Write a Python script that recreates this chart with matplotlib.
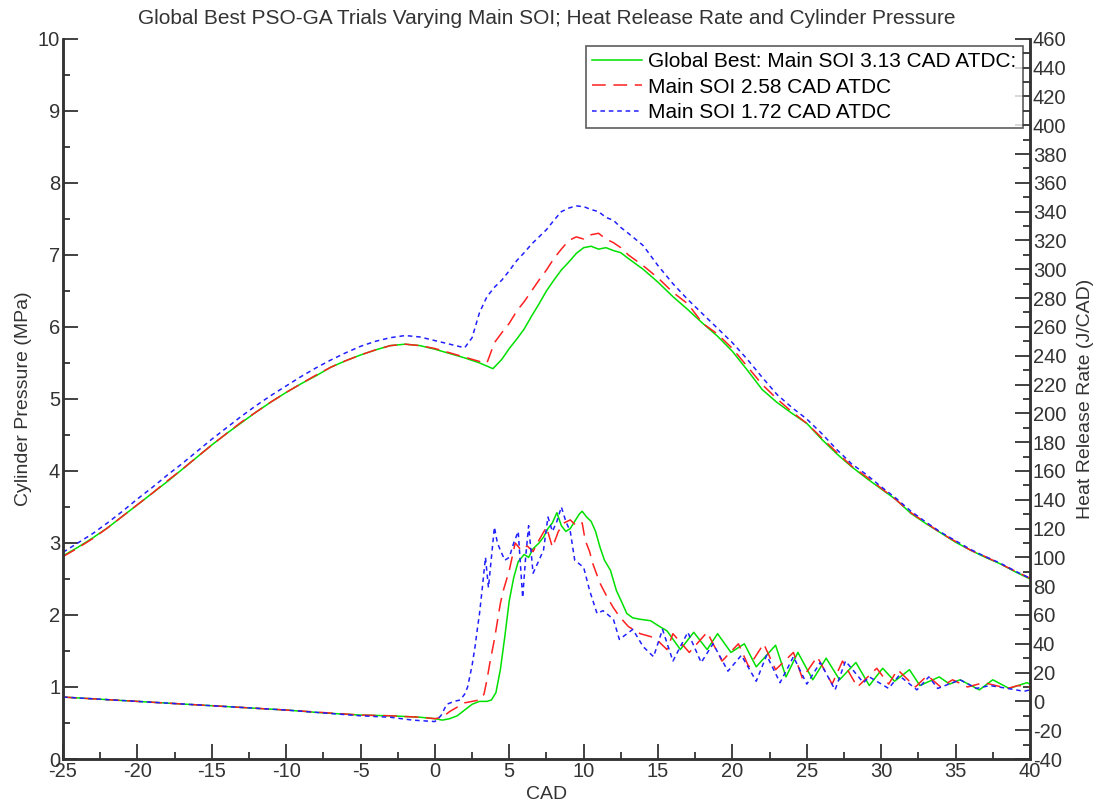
import matplotlib.pyplot as plt
from matplotlib.ticker import MultipleLocator

# cylinder pressure (MPa) against crank angle (CAD)
cad_p_g = [-25, -24, -23, -22, -21, -20, -19, -18, -17, -16, -15, -14, -13, -12, -11, -10,
           -9, -8, -7, -6, -5, -4, -3, -2, -1, 0, 1, 2, 3, 3.9, 4.5, 5, 5.5, 6, 6.5, 7, 7.5,
           8, 8.5, 9, 9.5, 10, 10.5, 11, 11.5, 12, 12.5, 13, 14, 15, 16, 17, 18, 19, 20, 21,
           22, 23, 24, 25, 26, 27, 28, 29, 30, 31, 32, 33, 34, 35, 36, 37, 38, 39, 40]
p_g = [2.82, 2.94, 3.07, 3.21, 3.37, 3.53, 3.69, 3.85, 4.02, 4.19, 4.36, 4.52, 4.67, 4.82, 4.96, 5.09,
       5.21, 5.32, 5.44, 5.53, 5.61, 5.68, 5.74, 5.76, 5.74, 5.69, 5.63, 5.57, 5.50, 5.42, 5.55, 5.70, 5.83, 5.97, 6.15, 6.32, 6.50,
       6.65, 6.79, 6.90, 7.02, 7.10, 7.12, 7.08, 7.10, 7.06, 7.03, 6.95, 6.80, 6.62, 6.42, 6.24, 6.05, 5.87, 5.66, 5.40,
       5.13, 4.95, 4.80, 4.66, 4.44, 4.24, 4.06, 3.90, 3.75, 3.60, 3.41, 3.27, 3.14, 3.01, 2.90, 2.80, 2.71, 2.60, 2.50]

cad_p_r = [-25, -24, -23, -22, -21, -20, -19, -18, -17, -16, -15, -14, -13, -12, -11, -10,
           -9, -8, -7, -6, -5, -4, -3, -2, -1, 0, 1, 2, 3, 3.5, 4, 4.5, 5, 5.5, 6, 6.5, 7, 7.5,
           8, 8.5, 9, 9.5, 10, 10.5, 11, 11.5, 12, 12.5, 13, 14, 15, 16, 17, 18, 19, 20, 21,
           22, 23, 24, 25, 26, 27, 28, 29, 30, 31, 32, 33, 34, 35, 36, 37, 38, 39, 40]
p_r = [2.81, 2.93, 3.06, 3.21, 3.37, 3.53, 3.69, 3.86, 4.02, 4.19, 4.36, 4.52, 4.68, 4.82, 4.96, 5.09,
       5.21, 5.33, 5.44, 5.53, 5.61, 5.68, 5.74, 5.76, 5.74, 5.70, 5.64, 5.58, 5.52, 5.50, 5.78, 5.92, 6.05, 6.22, 6.35, 6.50, 6.65, 6.79,
       6.95, 7.08, 7.20, 7.25, 7.22, 7.28, 7.30, 7.22, 7.17, 7.10, 7.00, 6.85, 6.68, 6.48, 6.32, 6.05, 5.90, 5.70, 5.45,
       5.20, 5.00, 4.82, 4.66, 4.46, 4.26, 4.07, 3.92, 3.76, 3.60, 3.42, 3.28, 3.14, 3.02, 2.90, 2.81, 2.71, 2.61, 2.51]

cad_p_b = [-25, -24, -23, -22, -21, -20, -19, -18, -17, -16, -15, -14, -13, -12, -11, -10,
           -9, -8, -7, -6, -5, -4, -3, -2, -1, 0, 1, 2, 2.5, 3, 3.5, 4, 4.5, 5, 5.5, 6, 6.5, 7, 7.5,
           8, 8.5, 9, 9.5, 10, 10.5, 11, 11.5, 12, 12.5, 13, 14, 15, 16, 17, 18, 19, 20, 21,
           22, 23, 24, 25, 26, 27, 28, 29, 30, 31, 32, 33, 34, 35, 36, 37, 38, 39, 40]
p_b = [2.87, 3.00, 3.13, 3.28, 3.44, 3.61, 3.77, 3.94, 4.10, 4.27, 4.44, 4.60, 4.76, 4.91, 5.05, 5.18,
       5.31, 5.43, 5.54, 5.64, 5.73, 5.80, 5.85, 5.88, 5.86, 5.81, 5.76, 5.71, 5.85, 6.20, 6.42, 6.55, 6.65, 6.78, 6.92, 7.03, 7.15, 7.25, 7.35,
       7.48, 7.60, 7.65, 7.68, 7.67, 7.63, 7.60, 7.52, 7.48, 7.38, 7.30, 7.13, 6.85, 6.60, 6.38, 6.18, 5.98, 5.78, 5.55,
       5.30, 5.06, 4.88, 4.72, 4.52, 4.30, 4.10, 3.95, 3.78, 3.62, 3.44, 3.29, 3.15, 3.03, 2.91, 2.81, 2.72, 2.61, 2.51]

# heat release rate (J/CAD)
cad_h_g = [-25, -22.5, -20, -17.5, -15, -12.5, -10, -7.5, -5, -3, -1, 0, 0.5, 1, 1.5, 2, 2.5, 3, 3.5,
           3.8, 4.1, 4.4, 4.7, 5.0, 5.3, 5.6, 6.0, 6.3, 6.6, 7.0, 7.3, 7.6, 7.9, 8.2, 8.5, 8.8, 9.1,
           9.4, 9.7, 9.9, 10.2, 10.5, 10.8, 11.1, 11.4, 11.8, 12.2, 12.6, 12.9, 13.3, 13.8, 14.5,
           15.1, 15.6, 16.5, 17.4, 18.3, 19.0, 19.9, 20.8, 21.6, 22.9, 23.6, 24.4, 25.4, 26.3, 27.2,
           28.3, 29.2, 30.1, 30.9, 31.9, 32.6, 33.9, 34.6, 35.3, 36.6, 37.5, 38.6, 39.8, 40]
h_g = [3, 1.5, 0, -1.5, -3, -4.5, -6, -8, -9.5, -10, -11, -12, -13, -12, -10, -6, -2, 0, 0,
       1, 6, 22, 45, 70, 86, 97, 102, 100, 106, 110, 114, 120, 124, 131, 122, 118, 120,
       125, 130, 132, 128, 125, 118, 107, 98, 91, 77, 68, 61, 58, 57, 56,
       52, 49, 36, 48, 36, 47, 34, 40, 24, 39, 17, 34, 15, 30, 15,
       27, 11, 23, 14, 22, 11, 17, 12, 15, 8, 15, 9, 13, 12]

cad_h_r = [-25, -20, -15, -10, -5, -3, -1, 0, 0.5, 1.0, 1.5, 2.0, 2.5, 3.0, 3.3, 3.5, 3.7, 4.0,
           4.4, 4.6, 5.0, 5.4, 5.8, 6.2, 6.6, 7.0, 7.5, 7.9, 8.3, 8.7, 9.1, 9.5, 9.9, 10.1, 10.4,
           10.6, 11.1, 11.6, 12.0, 12.4, 13.0, 13.8, 14.5, 15.0, 15.6, 16.0, 17.1, 18.3, 19.3,
           20.4, 21.1, 22.1, 22.9, 24.1, 24.7, 25.7, 26.7, 27.4, 28.4, 29.7, 30.5, 31.1, 32.3,
           33.1, 34.0, 34.8, 35.8, 36.9, 38.5, 39.2, 40]
h_r = [3, 0, -3, -6, -9.5, -10, -11, -12, -11, -7, -4, -1, 0, 1, 5, 15, 27, 43,
       68, 77, 91, 110, 105, 108, 104, 112, 121, 107, 118, 124, 126, 122, 124, 112, 104,
       96, 82, 72, 65, 59, 52, 47, 45, 42, 36, 47, 34, 48, 28,
       40, 24, 40, 22, 34, 16, 31, 12, 28, 10, 23, 12, 22, 10,
       18, 10, 15, 10, 13, 9, 11, 10]

cad_h_b = [-25, -20, -15, -10, -5, -3, -1.5, 0, 0.4, 0.8, 1.3, 1.7, 2.0, 2.2, 2.5, 2.7, 2.85, 3.0,
           3.2, 3.4, 3.6, 3.8, 4.0, 4.2, 4.4, 4.7, 5.0, 5.3, 5.6, 5.9, 6.1, 6.3, 6.6, 7.0, 7.3,
           7.6, 7.9, 8.2, 8.5, 8.8, 9.1, 9.4, 10.0, 10.4, 10.9, 11.3, 12.0, 12.4, 13.3, 14.0,
           14.7, 15.3, 16.0, 17.0, 17.9, 18.7, 19.7, 20.6, 21.6, 22.3, 23.2, 24.1, 25.0, 25.9,
           26.9, 27.6, 28.8, 29.2, 30.5, 31.2, 32.4, 33.2, 33.8, 35.3, 36.4, 37.3, 38.5, 39.6, 40]
h_b = [3, 0, -3, -6, -10, -11, -13, -14, -10, -2, 0, 1, 5, 10, 25, 38, 50, 61,
       80, 100, 79, 100, 121, 110, 105, 98, 100, 110, 118, 72, 100, 122, 89, 98, 105,
       128, 118, 125, 135, 125, 118, 98, 93, 77, 61, 63, 57, 43, 50, 38,
       31, 50, 28, 48, 27, 40, 21, 32, 14, 32, 13, 31, 12, 27,
       8, 28, 13, 17, 9, 18, 8, 17, 9, 15, 9, 11, 9, 7, 8]

labels = ['Global Best: Main SOI 3.13 CAD ATDC:', 'Main SOI 2.58 CAD ATDC', 'Main SOI 1.72 CAD ATDC']

plt.rcParams['font.family'] = ['Liberation Sans', 'DejaVu Sans']
plt.rcParams['axes.unicode_minus'] = False

grey = '#333333'
green = '#00e000'
red = '#ff2020'
blue = '#2020ff'

fig = plt.figure(figsize=(10.97, 8.09), dpi=100)
ax = fig.add_axes([0.0574, 0.0618, 0.8815, 0.8902])
ax2 = ax.twinx()

l1, = ax.plot(cad_p_g, p_g, color=green, lw=1.1, ls='-')
l2, = ax.plot(cad_p_r, p_r, color=red, lw=1.1, ls=(0, (9, 5)))
l3, = ax.plot(cad_p_b, p_b, color=blue, lw=1.1, ls=(0, (3, 2.5)))
ax2.plot(cad_h_g, h_g, color=green, lw=1.1, ls='-')
ax2.plot(cad_h_r, h_r, color=red, lw=1.1, ls=(0, (9, 5)))
ax2.plot(cad_h_b, h_b, color=blue, lw=1.1, ls=(0, (3, 2.5)))

ax.set_xlim(-25, 40)
ax.set_ylim(0, 10)
ax2.set_ylim(-40, 460)

ax.xaxis.set_major_locator(MultipleLocator(5))
ax.xaxis.set_minor_locator(MultipleLocator(2.5))
ax.yaxis.set_major_locator(MultipleLocator(1))
ax.yaxis.set_minor_locator(MultipleLocator(0.5))
ax2.yaxis.set_major_locator(MultipleLocator(20))
ax2.yaxis.set_minor_locator(MultipleLocator(10))

for a in (ax, ax2):
    a.spines['top'].set_visible(False)
    for s in a.spines.values():
        s.set_color(grey)
        s.set_linewidth(1.8)
    a.tick_params(which='major', direction='in', length=11, width=1.3, color=grey,
                  labelsize=14.5, labelcolor=grey, pad=2)
    a.tick_params(which='minor', direction='in', length=5, width=1.3, color=grey)

ax.set_xlabel('CAD', fontsize=14, color=grey, labelpad=4)
ax.set_ylabel('Cylinder Pressure (MPa)', fontsize=14, color=grey, labelpad=4)
ax2.set_ylabel('Heat Release Rate (J/CAD)', fontsize=14, color=grey, rotation=90, labelpad=8)
ax.set_title('Global Best PSO-GA Trials Varying Main SOI; Heat Release Rate and Cylinder Pressure',
             fontsize=15, color=grey, pad=11)

leg = ax2.legend([l1, l2, l3], labels, loc='upper right', fontsize=15, frameon=True,
                 fancybox=False, borderaxespad=0.35, handlelength=2.4, handletextpad=0.3,
                 labelspacing=0.3, borderpad=0.3)
leg.get_frame().set_edgecolor(grey)
leg.get_frame().set_linewidth(1.2)

fig.savefig('out.png', dpi=100)
